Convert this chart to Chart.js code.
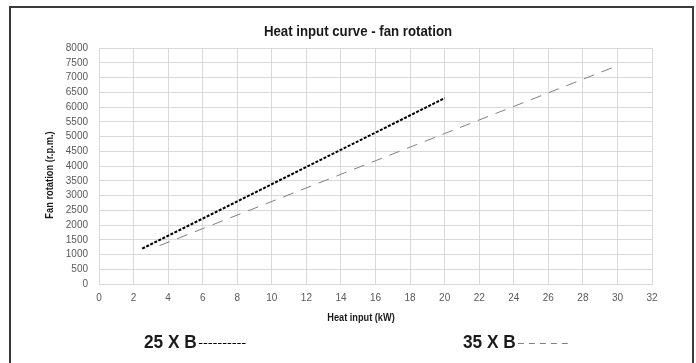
<!DOCTYPE html>
<html>
<head>
<meta charset="utf-8">
<script src="https://cdn.jsdelivr.net/npm/chart.js@4.4.1/dist/chart.umd.min.js"></script>
<style>
  html, body { margin: 0; padding: 0; background: #fff; }
  #wrap { width: 696px; height: 363px; position: relative; }
</style>
</head>
<body>
<div id="wrap"><canvas id="fanChart" width="696" height="363"></canvas></div>
<script>
// Valeurs
const heatInput25 = [2.5, 8, 20];
const fanRpm25 = [1200, 2800, 6300];
const heatInput35 = [3.5, 20, 30];
const fanRpm35 = [1300, 5100, 7400];

const xTicks = [0, 2, 4, 6, 8, 10, 12, 14, 16, 18, 20, 22, 24, 26, 28, 30, 32];
const yTicks = [0, 500, 1000, 1500, 2000, 2500, 3000, 3500, 4000, 4500, 5000, 5500, 6000, 6500, 7000, 7500, 8000];

const sans = "'Liberation Sans', Arial, sans-serif";

function toPoints(xs, ys) {
    return xs.map((x, i) => ({ x: x, y: ys[i] }));
}

// texte un peu resserré, comme une police étroite
function narrowText(ctx, text, x, y, sx) {
    ctx.save();
    ctx.translate(x, y);
    ctx.scale(sx, 1);
    ctx.fillText(text, 0, 0);
    ctx.restore();
}

// cadre, titres et légende dessinés à la main
const decor = {
    id: 'decor',
    afterDraw(chart) {
        const ctx = chart.ctx;
        ctx.save();
        ctx.strokeStyle = '#3a3a3a';
        ctx.lineWidth = 2;
        ctx.strokeRect(10, 7, 683, 370);

        ctx.fillStyle = '#1a1a1a';
        ctx.textAlign = 'center';
        ctx.textBaseline = 'middle';
        ctx.font = "bold 14px " + sans;
        narrowText(ctx, 'Heat input curve - fan rotation', 358, 32, 0.945);

        ctx.font = "bold 10px " + sans;
        narrowText(ctx, 'Heat input (kW)', 361, 318, 0.92);
        ctx.save();
        ctx.translate(50, 175);
        ctx.rotate(-Math.PI / 2);
        narrowText(ctx, 'Fan rotation (r.p.m.)', 0, 0, 0.93);
        ctx.restore();

        // légende : texte puis échantillon de trait
        const items = [
            { x: 144, ds: chart.data.datasets[0], dash: [3.5, 1.3], len: 48 },
            { x: 463, ds: chart.data.datasets[1], dash: [6, 5], len: 50 }
        ];
        const sx = 0.91;
        items.forEach(it => {
            ctx.font = "bold 19px " + sans;
            ctx.textAlign = 'left';
            ctx.fillStyle = '#1a1a1a';
            narrowText(ctx, it.ds.label, it.x, 343, sx);
            const tw = ctx.measureText(it.ds.label).width * sx;
            ctx.beginPath();
            ctx.setLineDash(it.dash);
            ctx.strokeStyle = it.ds.borderColor;
            ctx.lineWidth = 1;
            ctx.moveTo(it.x + tw + 2, 343.5);
            ctx.lineTo(it.x + tw + 2 + it.len, 343.5);
            ctx.stroke();
        });
        ctx.restore();
    }
};

const config = {
    type: 'scatter',
    data: {
        datasets: [{
            label: '25 X B',
            data: toPoints(heatInput25, fanRpm25),
            showLine: true,
            borderColor: '#000000',
            borderWidth: 2,
            borderDash: [3, 1.5],
            pointRadius: 0
        }, {
            label: '35 X B',
            data: toPoints(heatInput35, fanRpm35),
            showLine: true,
            borderColor: '#808080',
            borderWidth: 1,
            borderDash: [11, 8],
            pointRadius: 0
        }]
    },
    options: {
        responsive: false,
        animation: false,
        layout: { padding: { left: 0, top: 48, right: 44, bottom: 0 } },
        plugins: {
            legend: { display: false },
            title: { display: false },
            tooltip: { enabled: false }
        },
        scales: {
            x: {
                type: 'linear',
                min: 0,
                max: 32,
                afterBuildTicks: s => { s.ticks = xTicks.map(v => ({ value: v })); },
                afterFit: s => { s.height = 79; },
                grid: { color: '#d9d9d9', drawTicks: false },
                border: { color: '#d9d9d9' },
                ticks: { padding: 8, color: '#595959', font: { family: sans, size: 10 }, maxRotation: 0,
                         autoSkip: false, callback: v => String(v) }
            },
            y: {
                min: 0,
                max: 8000,
                afterBuildTicks: s => { s.ticks = yTicks.map(v => ({ value: v })); },
                afterFit: s => { s.width = 99; },
                grid: { color: '#d9d9d9', drawTicks: false },
                border: { color: '#d9d9d9' },
                ticks: { padding: 11, color: '#595959', font: { family: sans, size: 10 },
                         autoSkip: false, callback: v => String(v) }
            }
        }
    },
    plugins: [decor]
};

const fanChart = new Chart(document.getElementById('fanChart'), config);
</script>
</body>
</html>
